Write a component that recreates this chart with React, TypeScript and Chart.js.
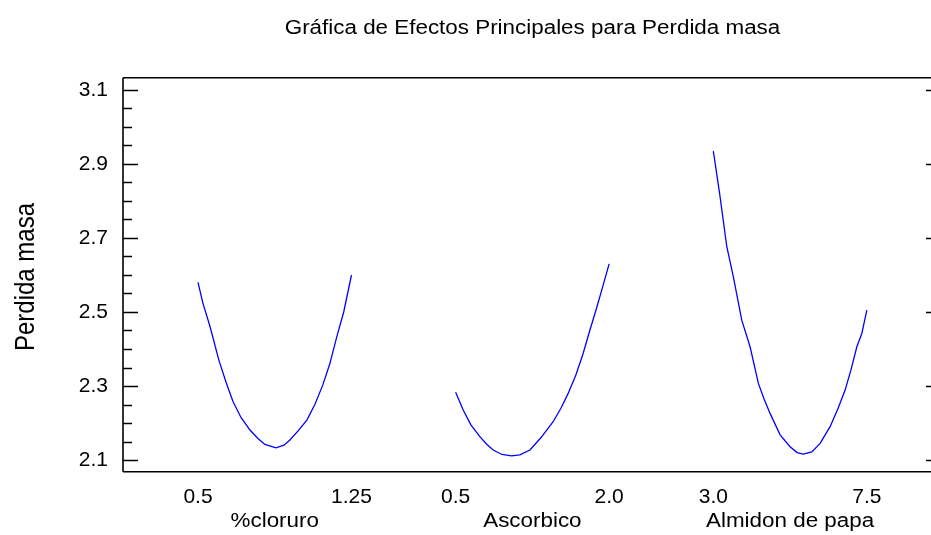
import React, { useEffect, useRef } from "react";
import { Chart, registerables } from "chart.js";

Chart.register(...registerables);

// ---- data ----
const TITLE = "Gráfica de Efectos Principales para Perdida masa";
const Y_TITLE = "Perdida masa";
const FACTORS = ["%cloruro", "Ascorbico", "Almidon de papa"];
const LOWS = [0.5, 0.5, 3.0];
const HIGHS = [1.25, 2.0, 7.5];
const X_TICK_LABELS = ["0.5", "1.25", "0.5", "2.0", "3.0", "7.5"];
const Y_TICKS = [2.1, 2.3, 2.5, 2.7, 2.9, 3.1];

const CLORURO_X = [0.5, 0.524, 0.559, 0.602, 0.637, 0.671, 0.71, 0.754, 0.793, 0.827, 0.881, 0.92, 0.949, 0.988, 1.032, 1.071, 1.11, 1.144, 1.178, 1.212, 1.25];
const CLORURO_Y = [2.58, 2.524, 2.46, 2.37, 2.31, 2.258, 2.215, 2.181, 2.158, 2.142, 2.133, 2.14, 2.154, 2.178, 2.208, 2.25, 2.303, 2.36, 2.433, 2.5, 2.6];

const ASCORBICO_X = [0.5, 0.574, 0.649, 0.737, 0.806, 0.867, 0.952, 1.047, 1.128, 1.226, 1.333, 1.453, 1.529, 1.6, 1.675, 1.746, 1.811, 1.877, 1.939, 2.0];
const ASCORBICO_Y = [2.283, 2.235, 2.195, 2.163, 2.142, 2.127, 2.115, 2.111, 2.114, 2.127, 2.16, 2.2035, 2.24, 2.28, 2.33, 2.388, 2.45, 2.51, 2.57, 2.63];

const ALMIDON_X = [3.0, 3.197, 3.393, 3.587, 3.833, 4.077, 4.32, 4.487, 4.663, 4.957, 5.25, 5.455, 5.64, 5.887, 6.13, 6.423, 6.658, 6.863, 7.039, 7.207, 7.353, 7.5];
const ALMIDON_Y = [2.935, 2.812, 2.677, 2.595, 2.478, 2.406, 2.307, 2.265, 2.226, 2.168, 2.136, 2.12, 2.116, 2.122, 2.145, 2.19, 2.24, 2.289, 2.345, 2.406, 2.442, 2.505];

const SERIES_X = [CLORURO_X, ASCORBICO_X, ALMIDON_X];
const SERIES_Y = [CLORURO_Y, ASCORBICO_Y, ALMIDON_Y];

// ---- layout (plot units: one factor panel = 1 unit) ----
const SEG_OFFSETS = [0.4886, 2.167, 3.846];
const X_MAX = 5.264;
const Y_MIN = 2.0684;
const Y_MAX = 3.1332;
const STRETCH = 1.12;
const FONT = "'Liberation Sans', Arial, sans-serif";

const toPlotX = (i: number, v: number) =>
  SEG_OFFSETS[i] + (v - LOWS[i]) / (HIGHS[i] - LOWS[i]);

const X_TICK_POS = SEG_OFFSETS.flatMap((o) => [o, o + 1]);

const framePlugin = {
  id: "frame",
  afterDraw(chart: any) {
    const { ctx, chartArea, scales } = chart;
    const { left, right, top, bottom } = chartArea;
    const y = scales.y;
    const x = scales.x;
    ctx.save();
    ctx.strokeStyle = "#000";
    ctx.lineWidth = 1.6;
    ctx.beginPath();
    ctx.moveTo(left, top);
    ctx.lineTo(right, top);
    ctx.moveTo(left, bottom);
    ctx.lineTo(right, bottom);
    ctx.moveTo(left, top);
    ctx.lineTo(left, bottom);
    ctx.stroke();

    ctx.lineWidth = 1.3;
    ctx.beginPath();
    Y_TICKS.forEach((v, idx) => {
      const py = Math.round(y.getPixelForValue(v)) + 0.5;
      ctx.moveTo(left, py);
      ctx.lineTo(left + 15, py);
      ctx.moveTo(right - 5, py);
      ctx.lineTo(right, py);
      if (idx < Y_TICKS.length - 1) {
        const step = (Y_TICKS[idx + 1] - v) / 4;
        for (let k = 1; k < 4; k++) {
          const pm = Math.round(y.getPixelForValue(v + step * k)) + 0.5;
          ctx.moveTo(left, pm);
          ctx.lineTo(left + 9, pm);
        }
      }
    });
    ctx.stroke();

    ctx.fillStyle = "#000";
    // title
    ctx.save();
    ctx.font = `20px ${FONT}`;
    ctx.textAlign = "center";
    ctx.textBaseline = "alphabetic";
    ctx.translate(532.5, 34);
    ctx.scale(STRETCH, 1);
    ctx.fillText(TITLE, 0, 0);
    ctx.restore();

    // factor names
    FACTORS.forEach((name, i) => {
      const cx = x.getPixelForValue(SEG_OFFSETS[i] + 0.5);
      ctx.save();
      ctx.font = `20px ${FONT}`;
      ctx.textAlign = "center";
      ctx.textBaseline = "alphabetic";
      ctx.translate(cx, 526.5);
      ctx.scale(STRETCH, 1);
      ctx.fillText(name, 0, 0);
      ctx.restore();
    });

    // y title
    ctx.save();
    ctx.font = `24px ${FONT}`;
    ctx.textAlign = "center";
    ctx.textBaseline = "alphabetic";
    ctx.translate(33.5, 277);
    ctx.scale(STRETCH, 1);
    ctx.rotate(-Math.PI / 2);
    ctx.fillText(Y_TITLE, 0, 0);
    ctx.restore();

    ctx.restore();
  },
};

export default function App() {
  const ref = useRef<HTMLCanvasElement | null>(null);

  useEffect(() => {
    if (!ref.current) return;
    const datasets = SERIES_X.map((xs, i) => ({
      label: FACTORS[i],
      data: xs.map((v, j) => ({ x: toPlotX(i, v), y: SERIES_Y[i][j] })),
      borderColor: "#0000ff",
      borderWidth: 1.3,
      pointRadius: 0,
      tension: 0,
      fill: false,
    }));
    const chart = new Chart(ref.current, {
      type: "line",
      data: { datasets },
      options: {
        animation: false,
        responsive: true,
        maintainAspectRatio: false,
        layout: { padding: { top: 77.7, right: 0, left: 0, bottom: 0 } },
        plugins: {
          legend: { display: false },
          title: { display: false },
          tooltip: { enabled: false },
        },
        scales: {
          x: {
            type: "linear",
            min: 0,
            max: X_MAX,
            grid: { display: false, drawTicks: false },
            border: { display: false },
            afterBuildTicks: (scale: any) => {
              scale.ticks = X_TICK_POS.map((v) => ({ value: v }));
            },
            afterFit: (scale: any) => {
              scale.height = 63.3;
            },
            ticks: {
              autoSkip: false,
              maxRotation: 0,
              padding: 13,
              color: "#000",
              font: { family: FONT, size: 21 },
              callback: (_v: any, idx: number) => X_TICK_LABELS[idx],
            },
          },
          y: {
            type: "linear",
            min: Y_MIN,
            max: Y_MAX,
            grid: { display: false, drawTicks: false },
            border: { display: false },
            afterBuildTicks: (scale: any) => {
              scale.ticks = Y_TICKS.map((v) => ({ value: v }));
            },
            afterFit: (scale: any) => {
              scale.width = 123;
            },
            ticks: {
              padding: 15,
              color: "#000",
              font: { family: FONT, size: 21 },
              callback: (v: any) => Number(v).toFixed(1),
            },
          },
        },
      },
      plugins: [framePlugin],
    } as any);
    return () => chart.destroy();
  }, []);

  return (
    <div
      style={{
        position: "fixed",
        left: 0,
        top: 0,
        width: 931,
        height: 535,
        background: "#fff",
      }}
    >
      <canvas ref={ref} />
    </div>
  );
}
